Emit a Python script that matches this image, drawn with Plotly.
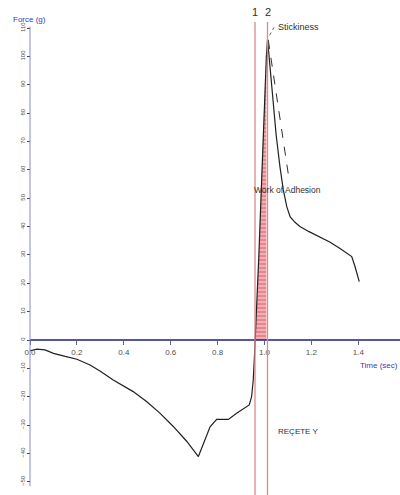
import plotly.graph_objects as go

# ---- data ----
time_s = [0.0, 0.03, 0.064, 0.1, 0.15, 0.2, 0.256, 0.3, 0.355, 0.4, 0.44, 0.497, 0.554,
          0.61, 0.668, 0.718, 0.739, 0.768, 0.796, 0.846, 0.881, 0.91, 0.935, 0.945,
          0.952, 0.957, 0.962, 0.968, 0.976, 0.985, 0.993, 1.001, 1.008, 1.013,
          1.03, 1.05, 1.066, 1.08, 1.095, 1.109, 1.13, 1.151, 1.19, 1.237, 1.28,
          1.322, 1.35, 1.372, 1.386, 1.404]
force_g = [-3.8, -3.2, -3.5, -4.7, -5.8, -6.8, -8.8, -11.0, -14.1, -16.3, -18.2, -21.7,
           -25.8, -30.4, -35.7, -41.1, -36.4, -30.6, -28.0, -28.0, -25.8, -24.1, -22.9,
           -20.0, -14.1, -5.9, 3.0, 14.0, 30.0, 50.0, 70.0, 88.0, 100.0, 106.0,
           90.0, 72.0, 61.0, 53.0, 47.0, 43.5, 41.5, 40.0, 38.2, 36.4, 34.5,
           32.3, 30.8, 29.4, 25.9, 20.6]

marker_times = [0.9595, 1.0128]
marker_labels = ["1", "2"]
tangent_t = [1.016, 1.102]
tangent_f = [105.8, 58.2]

x_ticks = [0.0, 0.2, 0.4, 0.6, 0.8, 1.0, 1.2, 1.4]
x_ticktext = ["0.0", "0.2", "0.4", "0.6", "0.8", "1.0", "1.2", "1.4"]
y_ticks = list(range(-50, 111, 10))

FONT = "Liberation Sans Narrow, Liberation Sans, Arial, sans-serif"

# plot area covers the whole page; ranges chosen so that t=0 sits 30px in, F=0 at 340px
W, H = 400, 495
x0_px, px_per_t = 30, 234.5
y0_px, px_per_f = 340, 2.836
x_range = [-x0_px / px_per_t, (W - x0_px) / px_per_t]
y_range = [(y0_px - H) / px_per_f, y0_px / px_per_f]

fig = go.Figure()

# hatched work-of-adhesion area
t1, t2 = marker_times
hx = [t1] + [t for t in time_s if t1 <= t <= t2]
hy = [0.0] + [f for t, f in zip(time_s, force_g) if t1 <= t <= t2]
fig.add_trace(go.Scatter(
    x=hx, y=hy, mode="lines", line=dict(width=0), fill="tozeroy",
    fillcolor="rgba(230,120,130,0.85)",
    fillpattern=dict(shape="-", fgcolor="white", bgcolor="rgba(232,120,130,0.9)",
                     size=4, solidity=0.35),
    hoverinfo="skip", showlegend=False))

# main force curve
fig.add_trace(go.Scatter(x=time_s, y=force_g, mode="lines",
                         line=dict(color="#202020", width=1.2), showlegend=False))

# tangent dashed line
fig.add_trace(go.Scatter(x=tangent_t, y=tangent_f, mode="lines",
                         line=dict(color="#303030", width=1, dash="dash"),
                         showlegend=False))

shapes = []
# axis lines
shapes.append(dict(type="line", xref="x", yref="y", x0=0, x1=x_range[1], y0=0, y1=0,
                   line=dict(color="#1c1c80", width=1.3)))
shapes.append(dict(type="line", xref="x", yref="y", x0=0, x1=0, y0=110.5, y1=-51.5,
                   line=dict(color="#8888c8", width=1)))
# marker lines
for mt in marker_times:
    shapes.append(dict(type="line", xref="x", yref="y", x0=mt, x1=mt,
                       y0=(y0_px - 22) / px_per_f, y1=y_range[0],
                       line=dict(color="#d98a8a", width=1.3)))
# stickiness leader
shapes.append(dict(type="line", xref="x", yref="y", x0=1.022, x1=1.046, y0=107.5, y1=111,
                   line=dict(color="#404040", width=0.8, dash="dot")))

annotations = []
for mt, lab in zip(marker_times, marker_labels):
    annotations.append(dict(x=mt, y=(y0_px - 12) / px_per_f, xref="x", yref="y",
                            text=lab, showarrow=False,
                            font=dict(family=FONT, size=11, color="#303030")))
annotations += [
    dict(x=1.047, y=110.4, xref="x", yref="y", text="Stickiness", showarrow=False,
         xanchor="left", font=dict(family=FONT, size=9, color="#303030")),
    dict(x=1.096, y=52.9, xref="x", yref="y", text="Work of Adhesion", showarrow=False,
         font=dict(family=FONT, size=8.5, color="#303030")),
    dict(x=1.143, y=-32.4, xref="x", yref="y", text="REÇETE Y", showarrow=False,
         font=dict(family=FONT, size=8, color="#303030")),
    dict(x=11 / W, y=1 - 13 / H, xref="paper", yref="paper", text="Force (g)",
         showarrow=False, xanchor="left",
         font=dict(family=FONT, size=8, color="#3a3ac0")),
    dict(x=1.0, y=1 - 372 / H, xref="paper", yref="paper", text="Time (sec)",
         showarrow=False, xanchor="right",
         font=dict(family=FONT, size=8, color="#3a3ac0")),
]

fig.update_layout(
    width=W, height=H, margin=dict(l=0, r=0, t=0, b=0),
    paper_bgcolor="white", plot_bgcolor="white",
    shapes=shapes, annotations=annotations,
    xaxis=dict(range=x_range, showgrid=False, zeroline=False, showline=False,
               tickvals=x_ticks, ticktext=x_ticktext, ticks="outside", ticklen=4,
               tickcolor="#606080", anchor="free", position=(H - y0_px) / H,
               tickfont=dict(family=FONT, size=8, color="#505050")),
    yaxis=dict(range=y_range, showgrid=False, zeroline=False, showline=False,
               tickvals=y_ticks, ticks="outside", ticklen=3, tickcolor="#404060",
               anchor="free", position=x0_px / W, tickangle=-90,
               tickfont=dict(family=FONT, size=6, color="#505050")),
)

fig.write_html("out.html")
